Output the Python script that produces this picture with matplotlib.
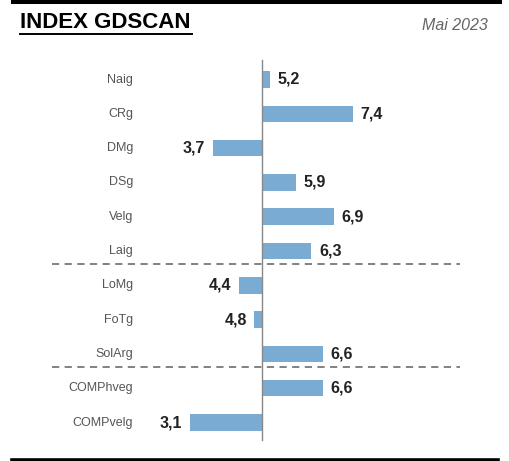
import matplotlib.pyplot as plt
from matplotlib.lines import Line2D

# data
categories = ["Naig", "CRg", "DMg", "DSg", "Velg", "Laig", "LoMg", "FoTg", "SolArg", "COMPhveg", "COMPvelg"]
values = [5.2, 7.4, 3.7, 5.9, 6.9, 6.3, 4.4, 4.8, 6.6, 6.6, 3.1]
value_labels = ["5,2", "7,4", "3,7", "5,9", "6,9", "6,3", "4,4", "4,8", "6,6", "6,6", "3,1"]
base = 5.0
separators = [5.5, 8.5]

plt.rcParams['font.family'] = ["Liberation Sans", "DejaVu Sans"]

W, H = 510, 461
fig = plt.figure(figsize=(W / 100, H / 100), dpi=100)

def fx(px):
    return px / W

def fy(px):
    return 1 - px / H

# pixel layout: x=262px is value 5, 38 px per unit; rows start at 79.5px, 34.3px apart
X0, SCALE = 262, 38.0
Y0, STEP = 79.5, 34.3

# frame lines top and bottom
fig.add_artist(Line2D([fx(13), fx(500)], [fy(2), fy(2)], color="black", lw=2.9))
fig.add_artist(Line2D([fx(12), fx(498)], [fy(459.5), fy(459.5)], color="black", lw=2.6))

# title with underline
fig.text(fx(20), fy(23), "INDEX GDSCAN", fontsize=16, fontweight="bold", va="center", ha="left")
fig.add_artist(Line2D([fx(20), fx(192)], [fy(34), fy(34)], color="black", lw=1.4))
fig.text(fx(488), fy(25), "Mai 2023", fontsize=11.5, style="italic", color="#666666", va="center", ha="right")

ax = fig.add_axes([fx(140), fy(445), fx(480) - fx(140), (445 - 58) / H])
ax.set_xlim(base + (140 - X0) / SCALE, base + (480 - X0) / SCALE)
ax.set_ylim((445 - Y0) / STEP, (58 - Y0) / STEP)
for s in ax.spines.values():
    s.set_visible(False)
ax.set_xticks([])
ax.set_yticks([])
ax.patch.set_alpha(0)

pos = list(range(len(categories)))
widths = [v - base for v in values]
ax.barh(pos, widths, left=base, height=0.48, color="#7aabd2")
ax.axvline(base, ymin=(445 - 440) / 387, ymax=(445 - 60) / 387, color="#888888", lw=1)

for i, (v, lab) in enumerate(zip(values, value_labels)):
    if v >= base:
        ax.text(v + 0.2, i, lab, ha="left", va="center", fontsize=11.5, fontweight="bold", color="#222222")
    else:
        ax.text(v - 0.2, i, lab, ha="right", va="center", fontsize=11.5, fontweight="bold", color="#222222")

for s in separators:
    yy = Y0 + STEP * s - 4
    fig.add_artist(Line2D([fx(52), fx(460)], [fy(yy), fy(yy)], color="#777777", lw=1.3, ls=(0, (4, 3))))

# category labels right aligned at about x=133px
for i, c in enumerate(categories):
    fig.text(fx(133), fy(Y0 + STEP * i), c, ha="right", va="center", fontsize=9, color="#555555")

fig.savefig("out.png", dpi=100)
